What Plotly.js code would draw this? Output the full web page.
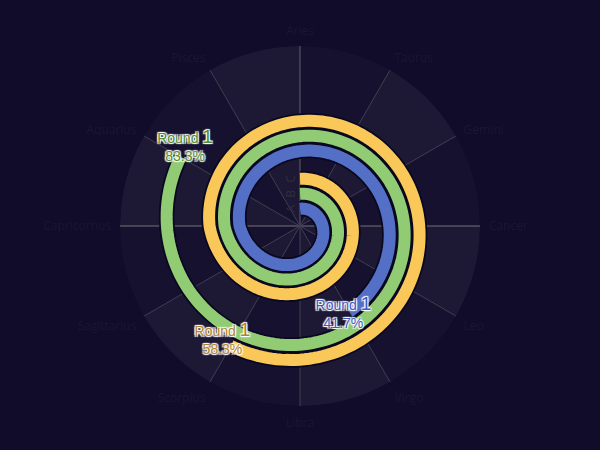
<!DOCTYPE html>
<html>
<head>
<meta charset="utf-8">
<script src="https://cdn.plot.ly/plotly-3.0.1.min.js"></script>
<style>html,body{margin:0;padding:0;background:#100c2a;}</style>
</head>
<body>
<div id="chart" style="width:600px;height:450px;"></div>
<script>
// ---- data ----
const seriesNames = ['A', 'B', 'C'];
const progressPct = [41.7, 83.3, 58.3];
const roundsDone = [1, 1, 1];
const signs = ['Aries','Taurus','Gemini','Cancer','Leo','Virgo','Libra','Scorpius','Sagittarius','Capricornus','Aquarius','Pisces'];

// ---- style ----
const lineColors = ['#5470c6', '#91cc75', '#fac858'];
const textColors = ['#3b59c2', '#4d8e36', '#b5831f'];
const R_MIN = -0.15, R_MAX = 11.85;
const GROWTH = 3.84;       // radial growth per full turn
const STEP = 2;            // degrees between path samples
const LABEL_SHIFT = 4;     // degrees the label sits past the line end

const tickVals = signs.map((s, i) => i * 30);

function radiusAt(i, d) {
  const t = d / 360;
  const bump = t < 0.75 ? 0.7 * Math.sin(Math.PI * t / 0.75) : 0;
  return (i + 1) + GROWTH * t - bump;
}

function spiral(i) {
  const endDeg = (roundsDone[i] + progressPct[i] / 100) * 360;
  const th = [], rr = [];
  for (let d = 0; d <= endDeg + 1e-9; d += STEP) {
    th.push(d); rr.push(radiusAt(i, d));
  }
  if (th[th.length - 1] < endDeg) { th.push(endDeg); rr.push(radiusAt(i, endDeg)); }
  return {th, rr, endDeg};
}

const traces = [];
// dummy cartesian trace so the centre line (y zero line) is drawn
traces.push({type:'scatter', x:[], y:[], hoverinfo:'skip', showlegend:false});

// background sectors
const secTheta = signs.map((s, k) => k * 30 + 15);
traces.push({
  type:'barpolar',
  theta: secTheta,
  r: secTheta.map(() => R_MAX - R_MIN),
  base: R_MIN,
  width: secTheta.map(() => 30),
  marker:{color: secTheta.map((v, k) => k % 2 ? 'rgba(255,255,255,0.055)' : 'rgba(255,255,255,0.022)'), line:{width:0}},
  hoverinfo:'skip', showlegend:false
});

const sp = seriesNames.map((n, i) => spiral(i));
sp.forEach((s, i) => {
  traces.push({type:'scatterpolar', mode:'lines', theta:s.th, r:s.rr,
    line:{color:'#0a0820', width:15.5}, hoverinfo:'skip', showlegend:false});
  traces.push({type:'scatterpolar', mode:'lines', theta:s.th, r:s.rr, name:seriesNames[i],
    line:{color:lineColors[i], width:12}, hoverinfo:'skip', showlegend:false});
});
sp.forEach((s, i) => {
  const w = '#ffffff';
  const ld = s.endDeg + LABEL_SHIFT;
  traces.push({type:'scatterpolar', mode:'text', theta:[ld], r:[radiusAt(i, ld)],
    text:['Round <span style="font-size:19px">' + roundsDone[i] + '</span><br>' + progressPct[i].toFixed(1) + '%'],
    textposition:'middle center',
    textfont:{family:'Liberation Sans, Arial, sans-serif', size:14, color:textColors[i],
      shadow:'1px 1px 1px '+w+', -1px -1px 1px '+w+', 1px -1px 1px '+w+', -1px 1px 1px '+w+', 0px 0px 1px '+w},
    hoverinfo:'skip', showlegend:false});
});

const layout = {
  width:600, height:450,
  paper_bgcolor:'#100c2a', plot_bgcolor:'rgba(0,0,0,0)',
  margin:{l:120, r:120, t:46, b:44},
  showlegend:false,
  xaxis:{range:[-1,1], showgrid:false, zeroline:false, showticklabels:false, ticks:'', showline:false, fixedrange:true},
  yaxis:{range:[-1,1], showgrid:false, zeroline:true, zerolinecolor:'#44424f', zerolinewidth:1.2, showticklabels:false, ticks:'', showline:false, fixedrange:true},
  polar:{
    domain:{x:[0,1], y:[0,1]},
    bgcolor:'rgba(0,0,0,0)',
    angularaxis:{type:'linear', rotation:90, direction:'clockwise', tickmode:'array',
      tickvals:tickVals, ticktext:signs, showgrid:true, gridcolor:'#3a384b', gridwidth:1,
      showline:false, ticks:'outside', ticklen:6, tickcolor:'rgba(0,0,0,0)', layer:'below traces',
      tickfont:{family:'Open Sans, sans-serif', size:12, color:'#1b1731'}},
    radialaxis:{range:[R_MIN, R_MAX], angle:90, tickmode:'array', tickvals:[1,2,3], ticktext:seriesNames,
      showgrid:false, showline:true, linecolor:'#44424f', ticks:'', side:'counterclockwise', layer:'below traces',
      tickfont:{family:'Open Sans, sans-serif', size:12, color:'#252236'}}
  }
};

Plotly.newPlot('chart', traces, layout, {staticPlot:true, displayModeBar:false});
</script>
</body>
</html>
